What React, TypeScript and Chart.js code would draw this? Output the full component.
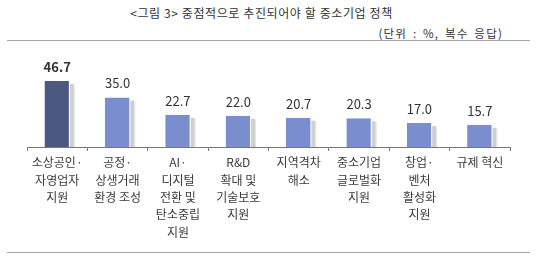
import React, { useEffect, useRef } from "react";
import { Chart, registerables } from "chart.js";

Chart.register(...registerables);

const categories: string[][] = [
  ["소상공인·", "자영업자", "지원"],
  ["공정·", "상생거래", "환경 조성"],
  ["AI·", "디지털", "전환 및", "탄소중립", "지원"],
  ["R&D", "확대 및", "기술보호", "지원"],
  ["지역격차", "해소"],
  ["중소기업", "글로벌화", "지원"],
  ["창업·", "벤처", "활성화", "지원"],
  ["규제 혁신"],
];
const values: number[] = [46.7, 35.0, 22.7, 22.0, 20.7, 20.3, 17.0, 15.7];
const barColors: string[] = ["#4A5882", "#7A8DCE", "#7A8DCE", "#7A8DCE", "#7A8DCE", "#7A8DCE", "#7A8DCE", "#7A8DCE"];
const title = "<그림 3> 중점적으로 추진되어야 할 중소기업 정책";
const subtitle = "(단위 : %, 복수 응답)";

const FONT = "'Noto Sans CJK KR', 'Noto Sans', sans-serif";

const shadowPlugin = {
  id: "barShadow",
  beforeDatasetsDraw(chart: any) {
    const ctx = chart.ctx;
    const meta = chart.getDatasetMeta(0);
    ctx.save();
    meta.data.forEach((bar: any) => {
      const p = bar.getProps(["x", "y", "base", "width"], true);
      const left = p.x - p.width / 2;
      ctx.fillStyle = "#CFCFCF";
      ctx.fillRect(left + p.width, p.y + 3, 4, p.base - p.y - 3);
      ctx.fillStyle = "#E4E4E4";
      ctx.fillRect(left + p.width + 4, p.y + 4, 1, p.base - p.y - 4);
    });
    ctx.restore();
  },
  afterDatasetsDraw(chart: any) {
    const ctx = chart.ctx;
    const meta = chart.getDatasetMeta(0);
    ctx.save();
    ctx.textAlign = "center";
    ctx.textBaseline = "middle";
    meta.data.forEach((bar: any, i: number) => {
      const p = bar.getProps(["x", "y"], true);
      ctx.font = (i === 0 ? "bold " : "") + "13px " + FONT;
      ctx.fillStyle = "#333333";
      ctx.fillText(values[i].toFixed(1), p.x, p.y - 14);
    });
    ctx.restore();
  },
};

export default function App() {
  const ref = useRef<HTMLCanvasElement>(null);
  useEffect(() => {
    if (!ref.current) return;
    const chart = new Chart(ref.current, {
      type: "bar",
      data: {
        labels: categories,
        datasets: [
          {
            data: values,
            backgroundColor: barColors,
            borderColor: "#FFFFFF",
            borderWidth: { top: 0, left: 0, right: 1, bottom: 0 } as any,
            categoryPercentage: 1,
            barPercentage: 0.42,
          },
        ],
      },
      plugins: [shadowPlugin],
      options: {
        animation: false,
        responsive: false,
        maintainAspectRatio: false,
        layout: { padding: { left: 27, right: 30, top: 10, bottom: 0 } },
        plugins: { legend: { display: false }, tooltip: { enabled: false } },
        scales: {
          x: {
            offset: true,
            grid: {
              display: true,
              offset: true,
              drawOnChartArea: false,
              drawTicks: true,
              tickLength: 4,
              color: "#777777",
            },
            border: { display: true, color: "#777777", width: 1 },
            ticks: {
              color: "#3A3A3A",
              padding: 3,
              maxRotation: 0,
              autoSkip: false,
              font: { family: FONT, size: 12, lineHeight: 1.45 },
            },
            afterFit: (s: any) => {
              s.height = 103;
            },
          },
          y: {
            display: false,
            min: 0,
            max: 65,
          },
        },
      },
    });
    return () => chart.destroy();
  }, []);

  return (
    <div
      style={{
        position: "absolute",
        left: 0,
        top: 0,
        width: 540,
        height: 259,
        background: "#FFFFFF",
        fontFamily: FONT,
        overflow: "hidden",
      }}
    >
      <div
        style={{
          position: "absolute",
          left: 0,
          width: 523,
          top: 4,
          textAlign: "center",
          fontSize: 12,
          letterSpacing: 0.6,
          lineHeight: "18px",
          color: "#333",
        }}
      >
        {title}
      </div>
      <div
        style={{
          position: "absolute",
          right: 37,
          top: 24,
          fontSize: 11.5,
          letterSpacing: 1.2,
          wordSpacing: 2,
          lineHeight: "18px",
          color: "#333",
        }}
      >
        {subtitle}
      </div>
      <div style={{ position: "absolute", left: 7, width: 523, top: 40, height: 1, background: "#A8A8A8" }} />
      <div style={{ position: "absolute", left: 7, width: 523, top: 252, height: 1, background: "#A8A8A8" }} />
      <canvas ref={ref} width={540} height={205} style={{ position: "absolute", left: 0, top: 45 }} />
    </div>
  );
}
